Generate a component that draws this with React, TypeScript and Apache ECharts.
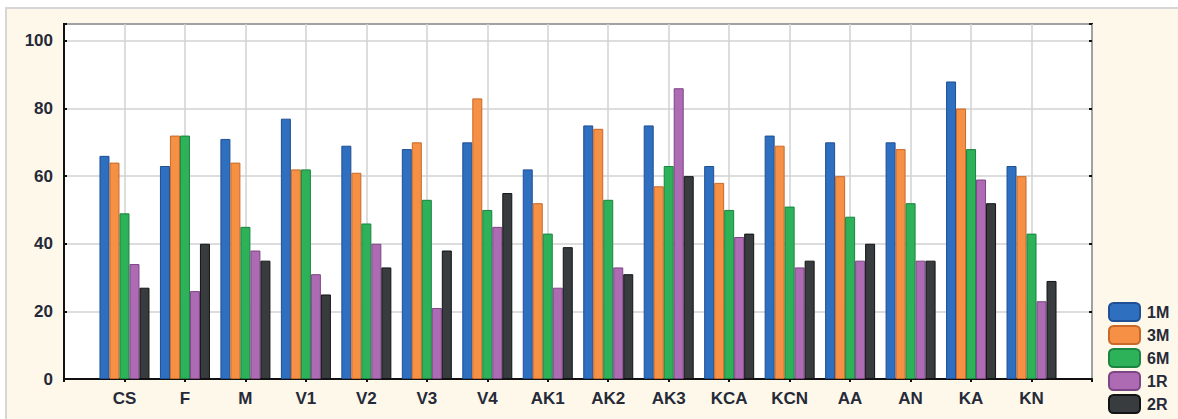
import React, { useEffect, useRef } from "react";
import * as echarts from "echarts";

const categories = ["CS", "F", "M", "V1", "V2", "V3", "V4", "AK1", "AK2", "AK3", "KCA", "KCN", "AA", "AN", "KA", "KN"];
const seriesNames = ["1M", "3M", "6M", "1R", "2R"];
const m1 = [66, 63, 71, 77, 69, 68, 70, 62, 75, 75, 63, 72, 70, 70, 88, 63];
const m3 = [64, 72, 64, 62, 61, 70, 83, 52, 74, 57, 58, 69, 60, 68, 80, 60];
const m6 = [49, 72, 45, 62, 46, 53, 50, 43, 53, 63, 50, 51, 48, 52, 68, 43];
const r1 = [34, 26, 38, 31, 40, 21, 45, 27, 33, 86, 42, 33, 35, 35, 59, 23];
const r2 = [27, 40, 35, 25, 33, 38, 55, 39, 31, 60, 43, 35, 40, 35, 52, 29];
const yTicks = [0, 20, 40, 60, 80, 100];

const fills = ["#2f6fbf", "#f59044", "#2db159", "#ac6bb3", "#383c3e"];
const borders = ["#1f4f94", "#c8692a", "#1a8440", "#7e4585", "#111314"];

export default function App() {
  const ref = useRef<HTMLDivElement>(null);
  useEffect(() => {
    if (!ref.current) return;
    const chart = echarts.init(ref.current, null, { renderer: "svg" });
    const axisCats = ["", ...categories, ""];
    const values = [m1, m3, m6, r1, r2];
    const font = "'Liberation Sans', Arial, sans-serif";
    const txt = "#262a38";
    chart.setOption({
      animation: false,
      backgroundColor: "#ffffff",
      textStyle: { fontFamily: font },
      graphic: [
        {
          type: "rect",
          shape: { x: 6, y: 8, width: 1180, height: 420 },
          style: { fill: "#fdf8ea", stroke: "#d6d6d6", lineWidth: 2 },
          z: -10,
        },
      ],
      grid: { left: 64, right: 86, top: 24, bottom: 40, show: true, backgroundColor: "#ffffff", borderColor: "#111", borderWidth: 2 },
      legend: {
        orient: "vertical",
        left: 1108,
        top: 302,
        height: 117,
        padding: 0,
        itemWidth: 31,
        itemHeight: 18,
        itemGap: 3,
        icon: "roundRect",
        data: seriesNames,
        textStyle: { fontFamily: font, fontSize: 16, fontWeight: "bold", color: txt, padding: [0, 0, 0, 2] },
      },
      xAxis: [
        {
          type: "category",
          data: axisCats,
          boundaryGap: false,
          axisLine: { show: true, lineStyle: { color: "#111", width: 2 } },
          axisTick: { show: false },
          axisLabel: { fontFamily: font, fontSize: 17, fontWeight: "bold", color: txt, margin: 11, interval: 0 },
          splitLine: { show: true, lineStyle: { color: "#d2d2d2", width: 1.5 } },
        },
        {
          type: "category",
          data: axisCats,
          boundaryGap: false,
          position: "top",
          axisLine: { show: false },
          axisTick: { show: true, inside: true, length: 3, interval: 0, lineStyle: { color: "#111", width: 2 } },
          axisLabel: { show: false },
          splitLine: { show: false },
        },
      ],
      yAxis: [
        {
          type: "value",
          min: 0,
          max: 105,
          interval: 20,
          axisLine: { show: true, lineStyle: { color: "#111", width: 2 } },
          axisTick: { show: true, inside: true, length: 3, lineStyle: { color: "#111", width: 2 } },
          axisLabel: {
            fontFamily: font,
            fontSize: 17,
            fontWeight: "bold",
            color: txt,
            margin: 11,
            formatter: (v: number) => (yTicks.includes(v) ? String(v) : ""),
          },
          splitLine: { show: true, lineStyle: { color: "#d2d2d2", width: 1.5 } },
        },
        {
          type: "value",
          min: 0,
          max: 105,
          interval: 20,
          position: "right",
          axisLine: { show: false },
          axisTick: { show: true, inside: true, length: 3, lineStyle: { color: "#111", width: 2 } },
          axisLabel: { show: false },
          splitLine: { show: false },
        },
      ],
      series: seriesNames.map((name, i) => ({
        name,
        type: "bar",
        xAxisIndex: 0,
        yAxisIndex: 0,
        barWidth: 10,
        barGap: "0%",
        data: [null, ...values[i], null],
        itemStyle: { color: fills[i], borderColor: borders[i], borderWidth: 1 },
      })),
    });
    return () => chart.dispose();
  }, []);
  return (
    <div style={{ position: "fixed", left: 0, top: 0, width: 1178, height: 419 }}>
      <div ref={ref} style={{ width: 1178, height: 419 }} />
    </div>
  );
}
